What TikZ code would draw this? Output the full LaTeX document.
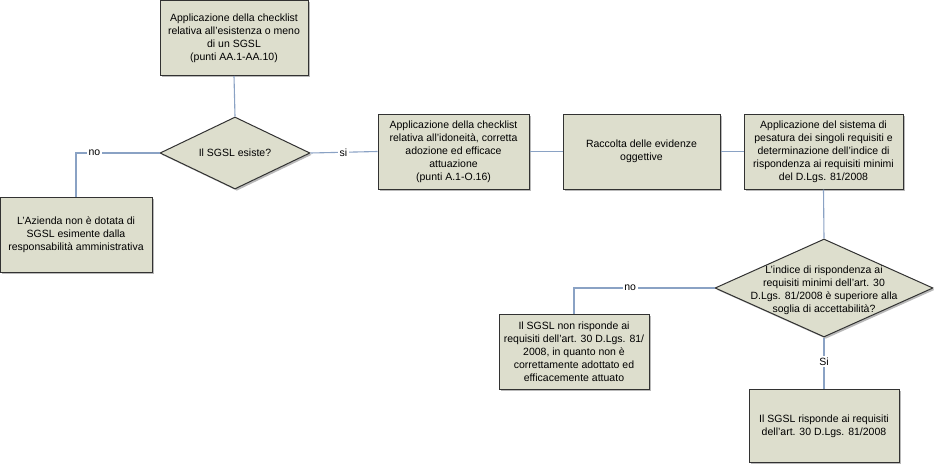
\documentclass[tikz,border=0pt]{standalone}
\usepackage{fontspec}
\setmainfont{Liberation Sans}
\usetikzlibrary{shapes.geometric,shadows}
\definecolor{boxfill}{RGB}{221,222,205}
\definecolor{boxline}{RGB}{50,50,50}
\definecolor{conn}{RGB}{138,162,196}
\tikzset{
  txt/.style={font=\fontsize{10.5}{13}\selectfont, align=center},
  proc/.style={txt, draw=boxline, line width=1pt, fill=boxfill, inner sep=2pt,
    drop shadow={shadow xshift=1.8pt, shadow yshift=-1.8pt, fill=black!55, opacity=0.5}},
  dec/.style={diamond, draw=boxline, line width=1pt, fill=boxfill, inner sep=0pt,
    drop shadow={shadow xshift=1.8pt, shadow yshift=-1.8pt, fill=black!55, opacity=0.5}},
  dectext/.style={txt, inner sep=0pt},
  conline/.style={draw=conn, line width=1.1pt},
  lbl/.style={txt, fill=white, inner sep=1.5pt}
}
\begin{document}
\begin{tikzpicture}[x=1pt,y=-1pt]
\useasboundingbox (0,0) rectangle (934,466);
\node[proc, minimum width=148pt, minimum height=75pt] (b1) at (234,38)
  {Applicazione della checklist\\relativa all'esistenza o meno\\di un SGSL\\(punti AA.1-AA.10)};
\node[dec, minimum width=150pt, minimum height=72pt] (d1) at (235,153) {};
\node[dectext] (d1t) at (235,153) {Il SGSL esiste?};
\node[proc, minimum width=152pt, minimum height=75pt] (b2) at (76,234.5)
  {L'Azienda non è dotata di\\SGSL esimente dalla\\responsabilità amministrativa};
\node[proc, minimum width=151pt, minimum height=75pt] (b3) at (453.5,151.5)
  {Applicazione della checklist\\relativa all'idoneità, corretta\\adozione ed efficace\\attuazione\\(punti A.1-O.16)};
\node[proc, minimum width=157pt, minimum height=75pt] (b4) at (641.5,151.5)
  {Raccolta delle evidenze\\oggettive};
\node[proc, minimum width=159pt, minimum height=75pt] (b5) at (823.5,151.5)
  {Applicazione del sistema di\\pesatura dei singoli requisiti e\\determinazione dell'indice di\\rispondenza ai requisiti minimi\\del D.Lgs. 81/2008};
\node[dec, minimum width=218pt, minimum height=98pt] (d2) at (824,288) {};
\node[dectext] (d2t) at (824,290)
  {L'indice di rispondenza ai\\requisiti minimi dell'art. 30\\D.Lgs. 81/2008 è superiore alla\\soglia di accettabilità?};
\node[proc, minimum width=150pt, minimum height=75pt] (b6) at (574,351.5)
  {Il SGSL non risponde ai\\requisiti dell'art. 30 D.Lgs. 81/\\2008, in quanto non è\\correttamente adottato ed\\efficacemente attuato};
\node[proc, minimum width=150pt, minimum height=73pt] (b7) at (824,426)
  {Il SGSL risponde ai requisiti\\dell'art. 30 D.Lgs. 81/2008};
\draw[conline] (b1.south) -- (d1.north);
\draw[conline] (d1.west) -| node[lbl, pos=0.39] (lno1) {no} (b2.north);
\draw[conline] (d1.east) -- node[lbl, pos=0.49] (lsi) {si} (b3.west);
\draw[conline] (b3.east) -- (b4.west);
\draw[conline] (b4.east) -- (b5.west);
\draw[conline] (b5.south) -- (d2.north);
\draw[conline] (d2.west) -| node[lbl, pos=0.30] (lno2) {no} (b6.north);
\draw[conline] (d2.south) -- node[lbl, pos=0.47] (lSi) {Si} (b7.north);
\end{tikzpicture}
\end{document}
